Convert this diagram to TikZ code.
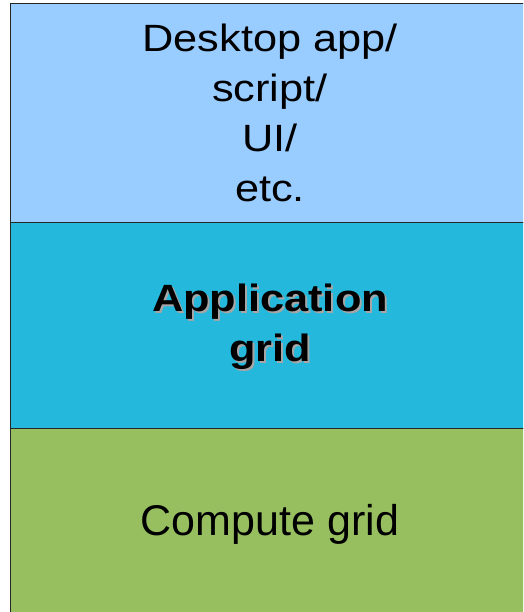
\documentclass[tikz,border=0pt]{standalone}
\usepackage{fontspec}
\setmainfont{Liberation Sans}
\newfontfamily\widefont{Liberation Sans}[FakeStretch=1.14]
\usetikzlibrary{positioning}

\definecolor{desktopblue}{HTML}{99CCFF}
\definecolor{appteal}{HTML}{23B8DC}
\definecolor{computegreen}{HTML}{97BF60}

\begin{document}
\begin{tikzpicture}[
		x=1pt, y=-1pt,
		layer/.style={draw=black!85, line width=0.9pt, rectangle, minimum width=520pt, inner sep=0pt},
		layertext/.style={font=\widefont\fontsize{38}{50}\selectfont, align=center, text=black, inner sep=0pt},
		shadowtext/.style={layertext, font=\widefont\fontsize{38}{50}\selectfont\bfseries, text=black!35}
		]
		
		\useasboundingbox (0,0) rectangle (523,612);
		\clip (0,0) rectangle (523,612);
		
		% === LAYERS ===
		\node[layer, fill=desktopblue, minimum height=219pt] (desktop) at (270,112.5) {};
		\node[layer, fill=appteal, minimum height=206pt] (app) at (270,325) {};
		\node[layer, fill=computegreen, minimum height=190pt] (compute) at (270,523) {};
		
		% === TEXTS ===
		\node[layertext] (desktoplabel) at (270,113) {Desktop app/\\script/\\UI/\\etc.};
		\node[shadowtext] (appshadow) at (272,329) {Application\\grid};
		\node[layertext, font=\widefont\fontsize{38}{50}\selectfont\bfseries] (applabel) at (270,327) {Application\\grid};
		\node[layertext, font=\fontsize{43}{50}\selectfont] (computelabel) at (270,524) {Compute grid};
		
	\end{tikzpicture}
\end{document}
